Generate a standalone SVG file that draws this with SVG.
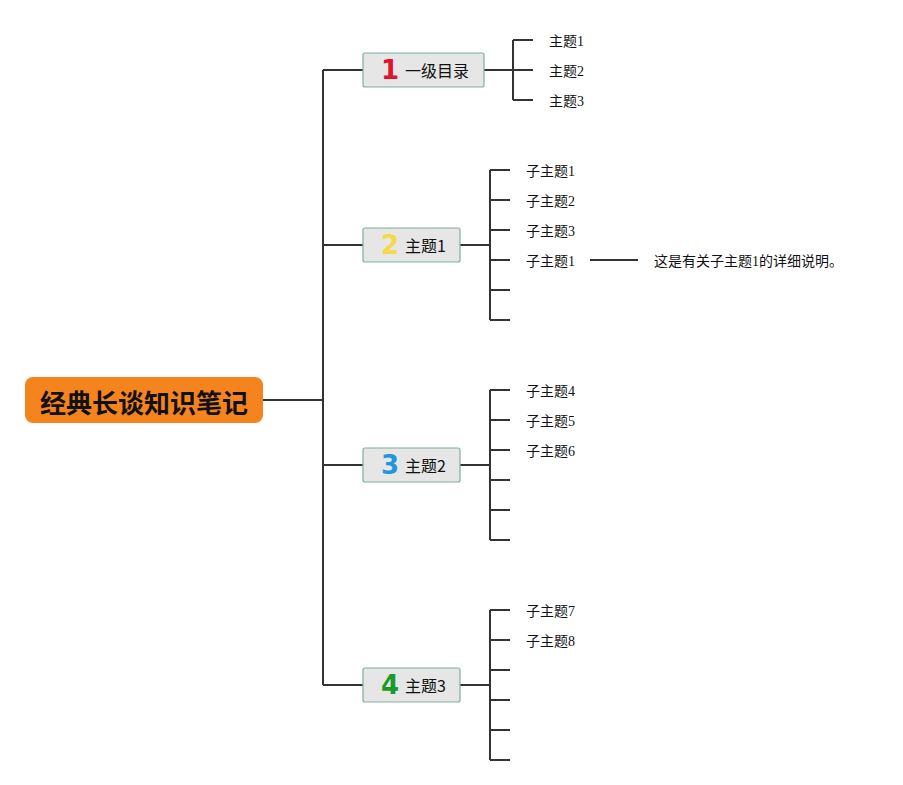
<svg xmlns="http://www.w3.org/2000/svg" width="903" height="785" viewBox="0 0 903 785">
<style>
.c{fill:none;stroke:#333;stroke-width:2}
.nb{fill:#e5e6e5;stroke:#7fae9f;stroke-width:1.2}
.nt{font-family:"Noto Sans CJK SC",sans-serif;font-size:16px;fill:#111;dominant-baseline:central}
.ic{font-family:"DejaVu Sans",sans-serif;font-weight:bold;font-size:26px;text-anchor:middle;dominant-baseline:central}
.lt{font-family:"Liberation Serif","Noto Sans CJK SC",serif;font-size:14px;fill:#111;dominant-baseline:central}
</style>
<rect width="903" height="785" fill="#fff"/>
<g id="connectors">
<path class="c" d="M263 400H323M323 70V685M323 70H363M323 245H363M323 465H363M323 685H363"/>
<path class="c" d="M484 70H513M513 40V100M513 40H533M513 70H533M513 100H533"/>
<path class="c" d="M460 245H490M490 170V320M490 170H510M490 200H510M490 230H510M490 260H510M490 290H510M490 320H510"/>
<path class="c" d="M590 260H638"/>
<path class="c" d="M460 465H490M490 390V540M490 390H510M490 420H510M490 450H510M490 480H510M490 510H510M490 540H510"/>
<path class="c" d="M460 685H490M490 610V760M490 610H510M490 640H510M490 670H510M490 700H510M490 730H510M490 760H510"/>
</g>
<g id="root">
<rect x="25" y="377" width="238" height="46" rx="8" fill="#f5841f"/>
<text x="144" y="401" text-anchor="middle" dominant-baseline="central" font-family="Noto Sans CJK SC,sans-serif" font-weight="bold" font-size="26" fill="#111">经典长谈知识笔记</text>
</g>
<g id="node1">
<rect class="nb" x="363" y="53" width="121" height="34" rx="2"/>
<text class="ic" x="390" y="70" fill="#e0142c">1</text>
<text class="nt" x="405" y="70">一级目录</text>
</g>
<g id="node2">
<rect class="nb" x="363" y="228" width="97" height="34" rx="2"/>
<text class="ic" x="390" y="245" fill="#f4d94a">2</text>
<text class="nt" x="405" y="245">主题1</text>
</g>
<g id="node3">
<rect class="nb" x="363" y="448" width="97" height="34" rx="2"/>
<text class="ic" x="390" y="465" fill="#2196e0">3</text>
<text class="nt" x="405" y="465">主题2</text>
</g>
<g id="node4">
<rect class="nb" x="363" y="668" width="97" height="34" rx="2"/>
<text class="ic" x="390" y="685" fill="#1a9a2a">4</text>
<text class="nt" x="405" y="685">主题3</text>
</g>
<g id="leaves1">
<text class="lt" x="549" y="41">主题1</text>
<text class="lt" x="549" y="71">主题2</text>
<text class="lt" x="549" y="101">主题3</text>
</g>
<g id="leaves2">
<text class="lt" x="526" y="171">子主题1</text>
<text class="lt" x="526" y="201">子主题2</text>
<text class="lt" x="526" y="231">子主题3</text>
<text class="lt" x="526" y="261">子主题1</text>
<text class="lt" x="654" y="261">这是有关子主题1的详细说明。</text>
</g>
<g id="leaves3">
<text class="lt" x="526" y="391">子主题4</text>
<text class="lt" x="526" y="421">子主题5</text>
<text class="lt" x="526" y="451">子主题6</text>
</g>
<g id="leaves4">
<text class="lt" x="526" y="611">子主题7</text>
<text class="lt" x="526" y="641">子主题8</text>
</g>
</svg>
